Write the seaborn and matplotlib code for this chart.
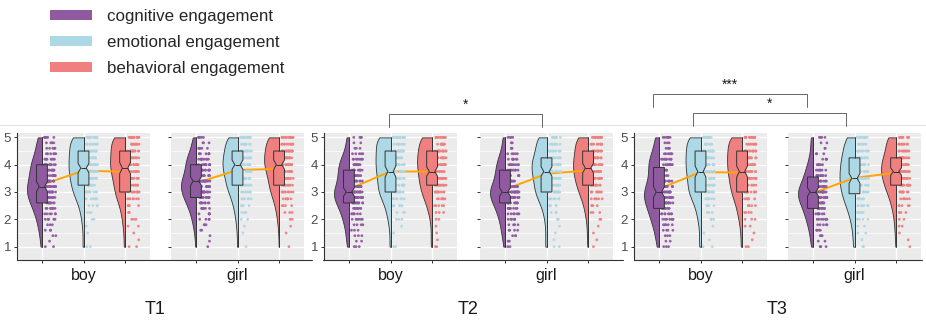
import numpy as np
import pandas as pd
import seaborn as sns
import matplotlib.pyplot as plt
from matplotlib.lines import Line2D
from matplotlib.patches import Patch, Rectangle
from matplotlib.transforms import Affine2D
from matplotlib.ticker import MultipleLocator

TIMES = ["T1", "T2", "T3"]
SEXES = ["boy", "girl"]
TYPES = ["cognitive engagement", "emotional engagement", "behavioral engagement"]
COLORS = ["#8F5A9F", "#ADD8E6", "#F08080"]

# score levels: cognitive moves in steps of 0.2, the other two in steps of 0.25
COG_LEVELS = [1.0, 1.2, 1.4, 1.6, 1.8, 2.0, 2.2, 2.4, 2.6, 2.8, 3.0,
              3.2, 3.4, 3.6, 3.8, 4.0, 4.2, 4.4, 4.6, 4.8, 5.0]
SCALE_LEVELS = [1.0, 1.25, 1.5, 1.75, 2.0, 2.25, 2.5, 2.75, 3.0,
                3.25, 3.5, 3.75, 4.0, 4.25, 4.5, 4.75, 5.0]

# students at each score level (estimated from the dot strips / violins)
T1_BOY_COG = [2, 1, 2, 3, 3, 5, 6, 7, 10, 12, 13, 13, 11, 10, 10, 10, 8, 6, 5, 4, 6]
T1_BOY_EMO = [2, 0, 1, 1, 2, 3, 4, 7, 10, 11, 12, 13, 14, 12, 14, 10, 16]
T1_BOY_BEH = [2, 1, 1, 2, 3, 3, 5, 7, 10, 9, 11, 12, 14, 12, 13, 10, 17]
T1_GIRL_COG = [1, 1, 1, 2, 3, 4, 5, 7, 9, 12, 14, 15, 15, 11, 10, 10, 10, 7, 5, 3, 5]
T1_GIRL_EMO = [1, 0, 1, 1, 2, 3, 4, 6, 9, 11, 12, 13, 16, 13, 14, 10, 14]
T1_GIRL_BEH = [1, 0, 1, 1, 2, 3, 4, 6, 9, 10, 11, 12, 16, 14, 15, 11, 16]
T2_BOY_COG = [3, 2, 3, 3, 4, 6, 7, 8, 12, 14, 16, 12, 9, 10, 10, 10, 8, 5, 3, 2, 4]
T2_BOY_EMO = [2, 0, 1, 1, 3, 3, 5, 7, 12, 10, 11, 12, 13, 12, 13, 10, 17]
T2_BOY_BEH = [2, 1, 1, 1, 2, 3, 5, 7, 10, 11, 12, 12, 14, 13, 13, 10, 15]
T2_GIRL_COG = [2, 2, 3, 4, 4, 6, 7, 9, 11, 15, 17, 13, 10, 9, 9, 9, 7, 5, 3, 2, 4]
T2_GIRL_EMO = [2, 1, 1, 1, 2, 3, 5, 8, 12, 11, 12, 14, 15, 13, 10, 9, 12]
T2_GIRL_BEH = [1, 1, 1, 1, 2, 3, 4, 6, 9, 11, 12, 14, 14, 13, 13, 10, 15]
T3_BOY_COG = [3, 2, 3, 4, 5, 7, 8, 9, 11, 13, 14, 10, 9, 8, 7, 10, 9, 6, 4, 3, 6]
T3_BOY_EMO = [2, 1, 1, 1, 3, 3, 5, 7, 12, 10, 11, 12, 13, 12, 13, 10, 16]
T3_BOY_BEH = [2, 1, 1, 2, 3, 4, 5, 7, 10, 10, 11, 12, 13, 12, 13, 10, 16]
T3_GIRL_COG = [3, 2, 3, 4, 5, 7, 8, 10, 12, 15, 17, 13, 10, 9, 7, 6, 4, 3, 2, 2, 4]
T3_GIRL_EMO = [2, 1, 2, 2, 4, 5, 7, 10, 11, 12, 13, 12, 12, 11, 10, 8, 10]
T3_GIRL_BEH = [1, 1, 1, 2, 2, 3, 5, 6, 9, 12, 13, 15, 15, 13, 10, 9, 12]

# significance marks: (label, left x, right x, bracket top y), in pixels
SIG_MARKS = [("*", 389, 542, 114), ("***", 653, 807, 94), ("*", 693, 846, 113)]

groups = {
    ("T1", "boy"): [T1_BOY_COG, T1_BOY_EMO, T1_BOY_BEH],
    ("T1", "girl"): [T1_GIRL_COG, T1_GIRL_EMO, T1_GIRL_BEH],
    ("T2", "boy"): [T2_BOY_COG, T2_BOY_EMO, T2_BOY_BEH],
    ("T2", "girl"): [T2_GIRL_COG, T2_GIRL_EMO, T2_GIRL_BEH],
    ("T3", "boy"): [T3_BOY_COG, T3_BOY_EMO, T3_BOY_BEH],
    ("T3", "girl"): [T3_GIRL_COG, T3_GIRL_EMO, T3_GIRL_BEH],
}
frames = []
for (t, s), count_lists in groups.items():
    for typ, levels, counts in zip(TYPES, [COG_LEVELS, SCALE_LEVELS, SCALE_LEVELS], count_lists):
        frames.append(pd.DataFrame({"time": t, "sex": s, "type": typ,
                                    "score": np.repeat(levels, counts)}))
df = pd.concat(frames, ignore_index=True)

sns.set_theme(style="ticks")
plt.rcParams["font.family"] = ["Liberation Sans", "DejaVu Sans"]

W, H = 926, 330
fig = plt.figure(figsize=(W / 100, H / 100), dpi=100)


def fx(x):
    return x / W


def fy(y):
    return 1 - y / H


# pixel layout of the six facets
BOY_LEFT = [17, 324, 634]
GIRL_LEFT = [171, 480, 788]
AXIS_LINE = [(17, 312), (323, 623), (634, 922)]
TITLE_X = [155, 468, 777]
np.random.seed(7)  # keep the strip jitter the same between runs

for i, t in enumerate(TIMES):
    for j, s in enumerate(SEXES):
        left = BOY_LEFT[i] if s == "boy" else GIRL_LEFT[i]
        ax = fig.add_axes([fx(left), fy(260), 133 / W, 127 / H])
        ax.set_facecolor("#EBEBEB")
        d = df[(df["time"] == t) & (df["sex"] == s)]

        # raw points, nudged to the right of each category
        sns.stripplot(data=d, x="type", y="score", hue="type", order=TYPES,
                      hue_order=TYPES, palette=COLORS, jitter=0.14, size=2.0,
                      alpha=0.95, linewidth=0, legend=False, ax=ax)
        for coll in ax.collections:
            coll.set_offset_transform(Affine2D().translate(0.2, 0) + ax.transData)

        # violins, then keep only their left half (flat side on the category)
        n_before = len(ax.collections)
        sns.violinplot(data=d, x="type", y="score", hue="type", order=TYPES,
                       hue_order=TYPES, palette=COLORS, saturation=1, inner=None,
                       cut=0, density_norm="width", width=0.72, bw_adjust=0.85,
                       linewidth=0.6, linecolor="#333333", legend=False, ax=ax)
        for k, coll in enumerate(ax.collections[n_before:]):
            clip = Rectangle((k - 1, -10), 1, 30, transform=ax.transData)
            coll.set_clip_path(clip)

        # notched boxes; whiskers run min..max to give the violin its flat edge
        sns.boxplot(data=d, x="type", y="score", hue="type", order=TYPES,
                    hue_order=TYPES, palette=COLORS, saturation=1, width=0.26,
                    notch=True, whis=(0, 100), showfliers=False, showcaps=False,
                    linewidth=0.7, linecolor="#333333", legend=False, zorder=3,
                    ax=ax)

        # group means joined by a line
        sns.pointplot(data=d, x="type", y="score", order=TYPES, estimator="mean",
                      errorbar=None, color="#FFA500", marker="", linewidth=1.4, ax=ax)
        sns.pointplot(data=d, x="type", y="score", order=TYPES, estimator="mean",
                      errorbar=None, color="black", linestyle="none", marker="o",
                      markersize=2.8, markeredgewidth=0, ax=ax)

        ax.set_xlim(-0.6, 2.6)
        ax.set_ylim(0.51, 5.16)
        ax.set_xlabel("")
        ax.set_ylabel("")
        ax.set_xticks([0, 1, 2], ["", s, ""])
        ax.set_yticks([1, 2, 3, 4, 5])
        ax.yaxis.set_minor_locator(MultipleLocator(0.5))
        ax.set_axisbelow(True)
        ax.grid(True, which="major", color="white", linewidth=1.0)
        ax.grid(True, which="minor", axis="y", color="white", linewidth=0.5)
        ax.tick_params(which="minor", length=0)
        ax.tick_params(axis="x", length=2.5, width=0.7, color="#333333", pad=3,
                       labelsize=11.5, labelcolor="#1A1A1A")
        ax.tick_params(axis="y", length=2.2, width=0.7, color="#333333", pad=2,
                       labelsize=9.5, labelcolor="#4D4D4D", labelleft=(s == "boy"))
        for side in ["top", "right", "bottom", "left"]:
            ax.spines[side].set_visible(False)
        if s == "boy":
            ax.spines["left"].set_visible(True)
            ax.spines["left"].set_color("#333333")
            ax.spines["left"].set_linewidth(0.8)

    x0, x1 = AXIS_LINE[i]
    fig.add_artist(Line2D([fx(x0), fx(x1)], [fy(260), fy(260)], color="#333333",
                          linewidth=0.8, transform=fig.transFigure))
    fig.text(fx(TITLE_X[i]), fy(310), t, ha="center", va="center", fontsize=13,
             color="#1A1A1A")

# thin light rule across the figure
fig.add_artist(Line2D([0, 1], [fy(125), fy(125)], color="#E3E3E3", linewidth=0.8,
                      transform=fig.transFigure))

for label, x0, x1, top in SIG_MARKS:
    fig.add_artist(Line2D([fx(x0), fx(x0), fx(x1), fx(x1)],
                          [fy(top + 13), fy(top), fy(top), fy(top + 13)],
                          color="#666666", linewidth=0.7, transform=fig.transFigure))
    fig.text(fx((x0 + x1) / 2), fy(top - 5), label, ha="center", va="baseline",
             fontsize=10, color="#1A1A1A")

handles = [Patch(facecolor=c, edgecolor="none") for c in COLORS]
fig.legend(handles, TYPES, loc="upper left", bbox_to_anchor=(fx(50), fy(9)),
           frameon=False, fontsize=12.2, handlelength=2.5, handleheight=0.5,
           handletextpad=0.85, labelspacing=0.64, borderpad=0, borderaxespad=0)

fig.savefig("out.png", dpi=100)
